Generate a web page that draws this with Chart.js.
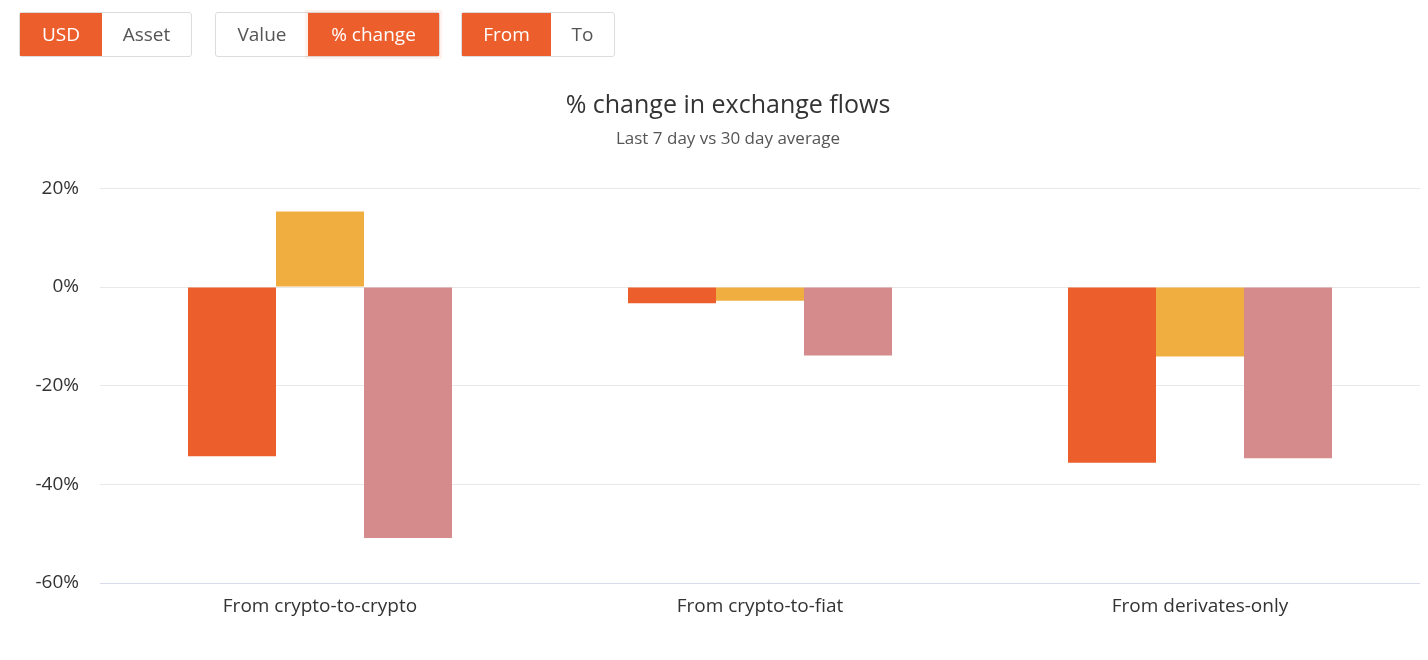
<!DOCTYPE html>
<html>
<head>
<meta charset="utf-8">
<script src="https://cdn.jsdelivr.net/npm/chart.js@4.4.1/dist/chart.umd.min.js"></script>
<style>
  html, body { margin: 0; padding: 0; background: #fff; }
  body { width: 1428px; height: 660px; position: relative; overflow: hidden; font-family: "Open Sans", "Noto Sans", sans-serif; }
  #wrap { position: absolute; left: 0; top: 0; width: 1428px; height: 660px; }
  .group { position: absolute; top: 12px; height: 45px; display: flex; border: 1px solid #dcdcdc; border-radius: 3px; box-sizing: border-box; }
  .group div { height: 100%; display: flex; align-items: center; justify-content: center; font-size: 19px; color: #555; box-sizing: border-box; padding-bottom: 2px; }
  .group div.on { background: #ec5f2d; color: #fff; }
  .glow { box-shadow: 0 0 0 3px rgba(236, 95, 45, 0.08); }
</style>
</head>
<body>
<div id="wrap"><canvas id="flowChart"></canvas></div>
<div class="group" style="left:19px;width:173px;">
  <div class="on" style="width:82px;">USD</div><div style="width:89px;">Asset</div>
</div>
<div class="group" style="left:215px;width:225px;">
  <div style="width:92px;">Value</div><div class="on glow" style="width:131px;">% change</div>
</div>
<div class="group" style="left:461px;width:154px;">
  <div class="on" style="width:89px;">From</div><div style="width:63px;">To</div>
</div>
<script>
// kategori dan nilai (% perubahan)
const categories = ['From crypto-to-crypto', 'From crypto-to-fiat', 'From derivates-only'];
const seriesA = [-34.3, -3.3, -35.6];
const seriesB = [15.3, -2.8, -14.1];
const seriesC = [-50.9, -13.9, -34.7];
const yTicks = [-60, -40, -20, 0, 20];

const FONT = '"Open Sans"';

document.addEventListener('DOMContentLoaded', function () {
    const canvas = document.getElementById('flowChart');
    if (!canvas) return;
    const ctx = canvas.getContext('2d');

    new Chart(ctx, {
        type: 'bar',
        data: {
            labels: categories,
            datasets: [
                { label: 'A', data: seriesA, backgroundColor: '#ec5f2d', borderWidth: 0 },
                { label: 'B', data: seriesB, backgroundColor: '#f1ae40', borderWidth: 0 },
                { label: 'C', data: seriesC, backgroundColor: '#d58b8c', borderWidth: 0 }
            ]
        },
        options: {
            responsive: true,
            maintainAspectRatio: false,
            animation: false,
            // padding kiri 36 supaya judul tergeser ke tengah seperti aslinya
            layout: { padding: { top: 91, left: 36, right: 8, bottom: 0 } },
            datasets: { bar: { categoryPercentage: 0.6, barPercentage: 1.0 } },
            scales: {
                x: {
                    grid: { display: false },
                    border: { display: false },
                    ticks: { color: '#333', font: { family: FONT, size: 19 }, padding: 4 },
                    afterFit: function (s) { s.height = 77; }
                },
                y: {
                    min: yTicks[0],
                    max: yTicks[yTicks.length - 1],
                    afterBuildTicks: function (s) { s.ticks = yTicks.map(v => ({ value: v })); },
                    grid: {
                        drawTicks: false,
                        color: function (c) { return c.tick && c.tick.value === yTicks[0] ? '#d8dce8' : '#e8e8e8'; }
                    },
                    border: { display: false },
                    ticks: {
                        color: '#333',
                        font: { family: FONT, size: 19 },
                        padding: 21,
                        callback: function (v) { return v + '%'; }
                    },
                    afterFit: function (s) { s.width = 64; }
                }
            },
            plugins: {
                legend: { display: false },
                tooltip: { enabled: false },
                title: {
                    display: true,
                    text: '% change in exchange flows',
                    color: '#333',
                    font: { family: FONT, size: 25, weight: 'normal' },
                    padding: { top: 0, bottom: 8 }
                },
                subtitle: {
                    display: true,
                    text: 'Last 7 day vs 30 day average',
                    color: '#555',
                    font: { family: FONT, size: 17 },
                    padding: { top: 0, bottom: 39 }
                }
            }
        }
    });
});
</script>
</body>
</html>
